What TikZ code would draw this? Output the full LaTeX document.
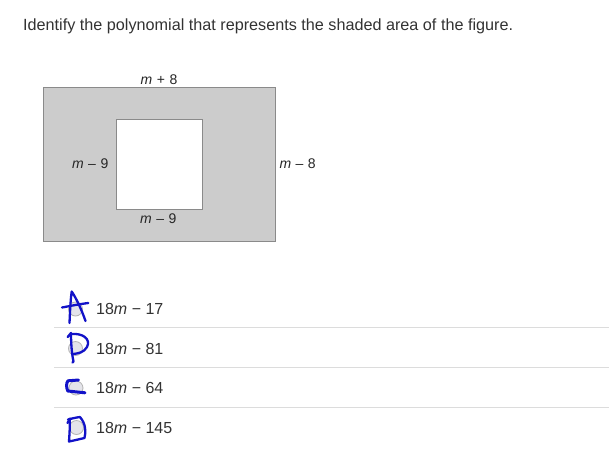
\documentclass[tikz,border=0pt]{standalone}
\usepackage{fontspec}
\setmainfont{Liberation Sans}
\definecolor{shade}{HTML}{CCCCCC}
\definecolor{edge}{HTML}{8A8A8A}
\definecolor{txt}{HTML}{333333}
\definecolor{sep}{HTML}{DCDCDC}
\definecolor{radio}{HTML}{E4E4EA}
\definecolor{radioedge}{HTML}{B4B4B4}
\definecolor{ink}{RGB}{18,18,200}
\begin{document}
\begin{tikzpicture}[x=1pt,y=-1pt,
  title/.style={font=\fontsize{16.2}{19}\selectfont, text=txt, inner sep=0pt, anchor=base west},
  dim/.style={font=\fontsize{14}{16}\selectfont, text=black!85, inner sep=0pt, anchor=base},
  opt/.style={font=\fontsize{16}{19}\selectfont, text=txt, inner sep=0pt, anchor=base west},
  radiobtn/.style={circle, draw=radioedge, fill=radio, line width=0.8pt, minimum size=14pt, inner sep=0pt},
  hand/.style={draw=ink, line width=2.3pt, line cap=round, line join=round},
  sepline/.style={draw=sep, line width=1pt}]
\useasboundingbox (0,0) rectangle (609,469);
\fill[white] (0,0) rectangle (609,469);
% title
\node[title] (title) at (23,30.5) {Identify the polynomial that represents the shaded area of the figure.};
% figure
\draw[edge, fill=shade, line width=1pt] (43,87.8) rectangle (275,241.5);
\draw[edge, fill=white, line width=1pt] (116,119.5) rectangle (202,209.3);
\newcommand{\gap}{\hspace{0.32em}}
\node[dim] (top) at (159,84) {\textit{m}\gap+\gap8};
\node[dim, anchor=base east] (left) at (108.5,168.3) {\textit{m}\gap–\gap9};
\node[dim, anchor=base west] (right) at (279.3,168.3) {\textit{m}\gap–\gap8};
\node[dim] (bottom) at (158.3,223.3) {\textit{m}\gap–\gap9};
% separators
\draw[sepline] (54,327.3) -- (609,327.3);
\draw[sepline] (54,367.3) -- (609,367.3);
\draw[sepline] (54,407.3) -- (609,407.3);
% radio buttons
\node[radiobtn] (ra) at (75.5,309) {};
\node[radiobtn] (rb) at (75.5,348.5) {};
\node[radiobtn] (rc) at (76,388) {};
\node[radiobtn] (rd) at (76.5,427.5) {};
% options
\node[opt] (oa) at (96,314.3) {18\textit{m} − 17};
\node[opt] (ob) at (96,354.3) {18\textit{m} − 81};
\node[opt] (oc) at (96,393.8) {18\textit{m} − 64};
\node[opt] (od) at (96,433) {18\textit{m} − 145};
% handwritten letters
% A
\draw[hand] (69.5,323) .. controls (70,312) and (70.5,300) .. (71.7,291.5) .. controls (76,298) and (81,308) .. (85.5,321);
\draw[hand] (62,307.5) .. controls (70,306) and (80,304) .. (88.3,303);
% B
\draw[hand] (67.7,337) -- (71,333) .. controls (71,345) and (72,355) .. (73.5,361.5) -- (72.5,362.5);
\draw[hand] (71,334) .. controls (83,333) and (91,339) .. (87,347) .. controls (84,352.5) and (78,353.5) .. (73,354);
% C
\draw[hand, line width=3pt] (78.5,380) -- (68,380.8) .. controls (66,383) and (66.3,388) .. (67.8,391) -- (85,392.8);
% D
\draw[hand] (67.5,423) -- (70,418.5);
\draw[hand] (69.8,419) .. controls (70,426) and (69.5,434) .. (69,441.5) .. controls (74,440.5) and (80,439) .. (84.5,438) .. controls (86,432) and (86,424) .. (80,417) .. controls (76,417.5) and (72,418.5) .. (68,419.5);
\end{tikzpicture}
\end{document}
